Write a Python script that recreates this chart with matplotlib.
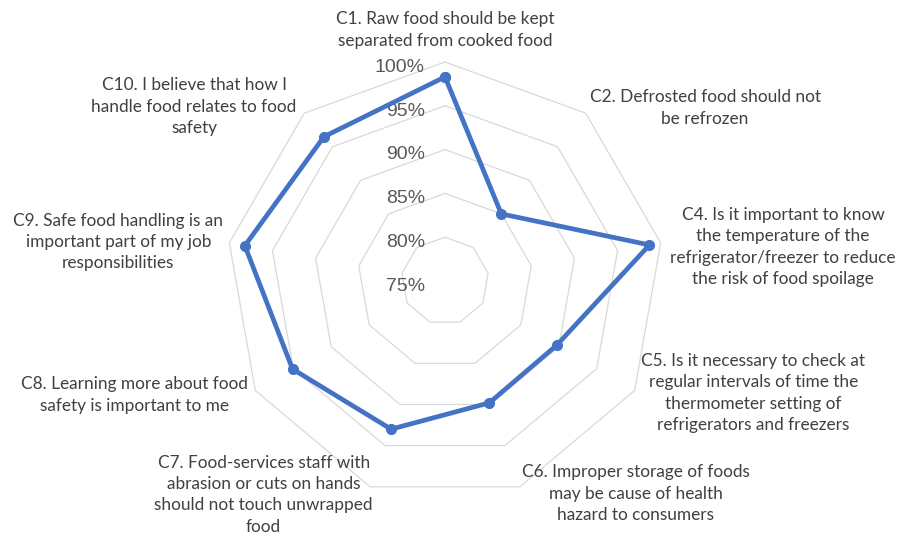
import numpy as np
import matplotlib
matplotlib.use("Agg")
import matplotlib.pyplot as plt

categories = [
    "C1. Raw food should be kept\nseparated from cooked food",
    "C2. Defrosted food should not\nbe refrozen",
    "C4. Is it important to know\nthe temperature of the\nrefrigerator/freezer to reduce\nthe risk of food spoilage",
    "C5. Is it necessary to check at\nregular intervals of time the\nthermometer setting of\nrefrigerators and freezers",
    "C6. Improper storage of foods\nmay be cause of health\nhazard to consumers",
    "C7. Food-services staff with\nabrasion or cuts on hands\nshould not touch unwrapped\nfood",
    "C8. Learning more about food\nsafety is important to me",
    "C9. Safe food handling is an\nimportant part of my job\nresponsibilities",
    "C10. I believe that how I\nhandle food relates to food\nsafety",
]
values = [98.3, 85.0, 98.7, 89.7, 89.8, 93.0, 95.1, 98.2, 96.5]
ticks = [75, 80, 85, 90, 95, 100]
tick_labels = ["75%", "80%", "85%", "90%", "95%", "100%"]
r_min = 75

# label anchor positions (layout, in axis units relative to chart centre)
label_pos = [(0, 28.65), (29.7, 19.75), (38.6, 3.9), (35.2, -12.8),
             (21.8, -24.3), (-20.7, -24.4), (-35.5, -13.0), (-37.3, 4.45),
             (-28.65, 19.9)]

W, H = 909, 537
fig = plt.figure(figsize=(W / 100, H / 100), dpi=100)
ax = fig.add_axes([0, 0, 1, 1])
scale = 219 / 25.0  # px per unit
cx, cy = 445, 281
ax.set_xlim(-cx / scale, (W - cx) / scale)
ax.set_ylim(-(H - cy) / scale, cy / scale)
ax.axis("off")

n = len(categories)
theta = np.deg2rad(90 - 360.0 / n * np.arange(n))

# grid polygons
for t in ticks[1:]:
    r = t - r_min
    xs = np.append(r * np.cos(theta), r * np.cos(theta[0]))
    ys = np.append(r * np.sin(theta), r * np.sin(theta[0]))
    ax.plot(xs, ys, color="#D9D9D9", lw=0.9, zorder=1)

# tick labels
for t, lab in zip(ticks, tick_labels):
    ax.text(-2.3, t - r_min - 0.6, lab, ha="right", va="center",
            fontsize=14, color="#595959", family=["Liberation Sans", "DejaVu Sans"])

# data
r = np.array(values) - r_min
xs = np.append(r * np.cos(theta), r[0] * np.cos(theta[0]))
ys = np.append(r * np.sin(theta), r[0] * np.sin(theta[0]))
ax.plot(xs, ys, color="#4472C4", lw=3.4, marker="o", markersize=7,
        solid_joinstyle="round", zorder=3)

# category labels
for lab, (x, y) in zip(categories, label_pos):
    ax.text(x, y, lab, ha="center", va="center", fontsize=12.4,
            color="#404040", family=["Lato", "DejaVu Sans"], linespacing=1.42)

fig.savefig("out.png", dpi=100)
